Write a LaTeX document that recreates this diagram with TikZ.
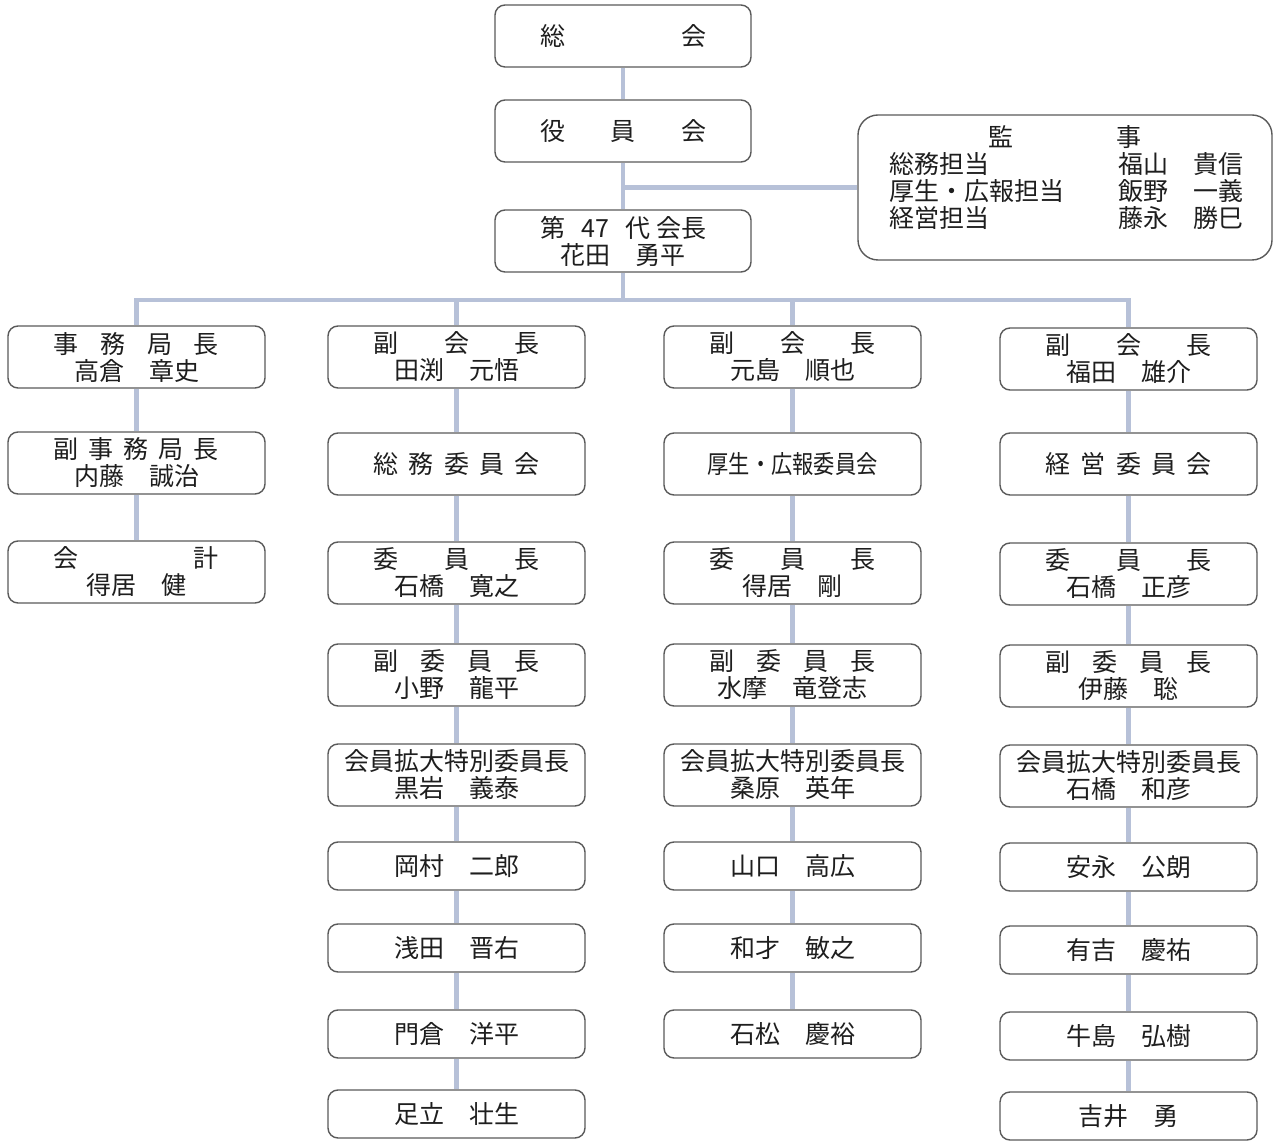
\documentclass[tikz,border=0pt]{standalone}
\usepackage{fontspec}
\newfontfamily\jp{Noto Sans CJK JP}
\newcommand\jsp[2]{\hbox to #1{#2}}
\definecolor{boxc}{HTML}{5A5A5A}
\definecolor{linec}{HTML}{B7C1D8}
\definecolor{txt}{HTML}{1E1E1E}
\begin{document}
\begin{tikzpicture}[x=0.5pt,y=-0.5pt,
  box/.style={draw=boxc, line width=0.7pt, rounded corners=5pt, fill=white,
    minimum width=128.5pt, minimum height=31pt, inner sep=0pt, align=center,
    font=\jp\fontsize{12.5}{13.5}\selectfont, text=txt},
  sbox/.style={box, minimum height=24pt},
  lbl/.style={inner sep=0pt, font=\jp\fontsize{12.5}{13.5}\selectfont, text=txt},
  conn/.style={draw=linec, line width=2.4pt}]
\fill[white] (0,0) rectangle (1279,1143);
\useasboundingbox (0,0) rectangle (1279,1143);

% top
\node[box, minimum width=128pt] (sokai) at (623,36) {\jsp{83pt}{総\hfill 会}};
\node[box, minimum width=128pt] (yakuin) at (623,131) {\jsp{83pt}{役\hfill 員\hfill 会}};
\node[box, minimum width=128pt] (pres) at (623,241) {\jsp{83pt}{第\hfill 47\hfill 代\hspace{3pt}会長}\\花田　勇平};

% auditors
\node[box, minimum width=207pt, minimum height=72.5pt, rounded corners=10pt] (aud) at (1065,187.5) {};
\node[lbl] (a1) at (1001,137) {監};
\node[lbl] (a2) at (1129,137) {事};
\node[lbl, anchor=west] (a3) at (889,164) {総務担当};
\node[lbl, anchor=west] (a4) at (889,191) {厚生・広報担当};
\node[lbl, anchor=west] (a5) at (889,218) {経営担当};
\node[lbl, anchor=west] (a6) at (1118,164) {福山　貴信};
\node[lbl, anchor=west] (a7) at (1118,191) {飯野　一義};
\node[lbl, anchor=west] (a8) at (1118,218) {藤永　勝巳};

% column 1
\node[box] (c1a) at (136.5,357) {\jsp{82.5pt}{事\hfill 務\hfill 局\hfill 長}\\高倉　章史};
\node[box] (c1b) at (136.5,463) {\jsp{82.5pt}{副\hfill 事\hfill 務\hfill 局\hfill 長}\\内藤　誠治};
\node[box] (c1c) at (136.5,572) {\jsp{82.5pt}{会\hfill 計}\\得居　健};

% column 2
\node[box] (c2a) at (456.5,357) {\jsp{83pt}{副\hfill 会\hfill 長}\\田渕　元悟};
\node[box] (c2b) at (456.5,464) {\jsp{83pt}{総\hfill 務\hfill 委\hfill 員\hfill 会}};
\node[box] (c2c) at (456.5,573) {\jsp{83pt}{委\hfill 員\hfill 長}\\石橋　寛之};
\node[box] (c2d) at (456.5,675) {\jsp{83pt}{副\hfill 委\hfill 員\hfill 長}\\小野　龍平};
\node[box] (c2e) at (456.5,775) {会員拡大特別委員長\\黒岩　義泰};
\node[sbox] (c2f) at (456.5,866) {岡村　二郎};
\node[sbox] (c2g) at (456.5,948) {浅田　晋右};
\node[sbox] (c2h) at (456.5,1034) {門倉　洋平};
\node[sbox] (c2i) at (456.5,1114) {足立　壮生};

% column 3
\node[box] (c3a) at (792.5,357) {\jsp{83pt}{副\hfill 会\hfill 長}\\元島　順也};
\node[box] (c3b) at (792.5,464) {\scalebox{0.85}[1]{厚生・広報委員会}};
\node[box] (c3c) at (792.5,573) {\jsp{83pt}{委\hfill 員\hfill 長}\\得居　剛};
\node[box] (c3d) at (792.5,675) {\jsp{83pt}{副\hfill 委\hfill 員\hfill 長}\\水摩　竜登志};
\node[box] (c3e) at (792.5,775) {会員拡大特別委員長\\桑原　英年};
\node[sbox] (c3f) at (792.5,866) {山口　高広};
\node[sbox] (c3g) at (792.5,948) {和才　敏之};
\node[sbox] (c3h) at (792.5,1034) {石松　慶裕};

% column 4
\node[box] (c4a) at (1128.5,359) {\jsp{83pt}{副\hfill 会\hfill 長}\\福田　雄介};
\node[box] (c4b) at (1128.5,464) {\jsp{83pt}{経\hfill 営\hfill 委\hfill 員\hfill 会}};
\node[box] (c4c) at (1128.5,574) {\jsp{83pt}{委\hfill 員\hfill 長}\\石橋　正彦};
\node[box] (c4d) at (1128.5,676) {\jsp{83pt}{副\hfill 委\hfill 員\hfill 長}\\伊藤　聡};
\node[box] (c4e) at (1128.5,776) {会員拡大特別委員長\\石橋　和彦};
\node[sbox] (c4f) at (1128.5,867) {安永　公朗};
\node[sbox] (c4g) at (1128.5,950) {有吉　慶祐};
\node[sbox] (c4h) at (1128.5,1036) {牛島　弘樹};
\node[sbox] (c4i) at (1128.5,1116) {吉井　勇};

% connectors
\coordinate (bar) at (623,300);
\draw[conn] (sokai) -- (yakuin);
\draw[conn] (yakuin) -- (pres);
\draw[conn] (aud) -- (aud.west -| pres);
\draw[conn] (pres) -- (pres |- bar);
\draw[conn] (c1a) -- (c1a |- bar) -- (c4a |- bar) -- (c4a);
\draw[conn] (c2a |- bar) -- (c2a);
\draw[conn] (c3a |- bar) -- (c3a);
\draw[conn] (c1a) -- (c1b);
\draw[conn] (c1b) -- (c1c);
\foreach \a/\b in {a/b,b/c,c/d,d/e,e/f,f/g,g/h,h/i}{
  \draw[conn] (c2\a) -- (c2\b);
  \draw[conn] (c4\a) -- (c4\b);
}
\foreach \a/\b in {a/b,b/c,c/d,d/e,e/f,f/g,g/h}{
  \draw[conn] (c3\a) -- (c3\b);
}
\end{tikzpicture}
\end{document}
